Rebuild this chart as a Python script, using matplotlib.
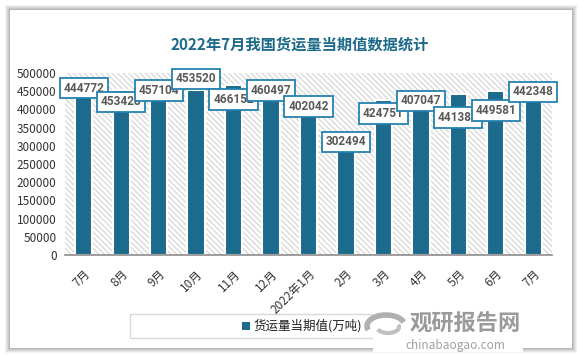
import matplotlib
matplotlib.use("Agg")
import matplotlib.pyplot as plt
from matplotlib.patches import Rectangle, Arc
import numpy as np

plt.rcParams['font.family'] = ['Noto Sans CJK SC', 'DejaVu Sans']

categories = ["7月", "8月", "9月", "10月", "11月", "12月", "2022年1月",
              "2月", "3月", "4月", "5月", "6月", "7月"]
values = [444772, 453428, 457104, 453520, 466152, 460497, 402042,
          302494, 424751, 407047, 441383, 449581, 442348]
yticks = [0, 50000, 100000, 150000, 200000, 250000, 300000, 350000,
          400000, 450000, 500000]
title = "2022年7月我国货运量当期值数据统计"
series_name = "货运量当期值(万吨)"

# label vertical offsets in pixels (style only)
label_dy = [5, -12, -2, 11, -14, -3, 2, 3, -13, 6, -23, -19, 2]

W, H = 583, 355
fig = plt.figure(figsize=(W / 100, H / 100), dpi=100)
fig.patch.set_facecolor("white")

def fx(px):
    return px / W

def fy(py):
    return 1 - py / H

# card shadow
for i, a in enumerate([0.05, 0.05, 0.06, 0.07, 0.08]):
    d = 5 - i
    fig.patches.append(Rectangle((fx(10 - d), fy(348 + d)), fx(562 + 2 * d), (338 + 2 * d) / H,
                                 transform=fig.transFigure, facecolor="black", alpha=a,
                                 edgecolor="none", zorder=-3))
fig.patches.append(Rectangle((fx(10), fy(348)), fx(562), 338 / H, transform=fig.transFigure,
                             facecolor="white", edgecolor="none", zorder=-2))

ax = fig.add_axes([fx(65), fy(255), fx(552 - 65), (255 - 73) / H])
ax.set_zorder(1)
ax.set_facecolor("none")
n = len(categories)
x = np.arange(n)
ax.set_xlim(-0.5, n - 0.5)
ax.set_ylim(0, 500000)

# hatched background
ax.add_patch(Rectangle((-0.5, 0), n, 500000, facecolor="white", edgecolor="#dadada",
                       hatch="\\\\\\\\\\\\", linewidth=0, zorder=0))

ax.bar(x, values, width=0.46, color="#1c6a8c", edgecolor="white", linewidth=1.5, zorder=2)

for xi, v, dy in zip(x, values, label_dy):
    ax.annotate(f"{v}", (xi, v), xytext=(0, dy), textcoords="offset pixels",
                ha="center", va="center", fontsize=8.5, fontweight="bold", color="#595959",
                family=["Roboto", "DejaVu Sans"],
                bbox=dict(boxstyle="square,pad=0.32", facecolor="white", edgecolor="#2581b0",
                          linewidth=1.3), zorder=5)

ax.set_yticks(yticks)
ax.set_yticklabels([str(t) for t in yticks], fontsize=8.5, color="#333333")
ax.set_xticks(x)
ax.set_xticklabels(categories, rotation=45, ha="right", rotation_mode="anchor",
                   fontsize=8.5, color="#333333")
ax.tick_params(axis="both", length=0)
ax.tick_params(axis="y", pad=6)
ax.tick_params(axis="x", pad=9)
for s in ["left", "right", "top"]:
    ax.spines[s].set_visible(False)
ax.spines["bottom"].set_color("#8c8c8c")
ax.spines["bottom"].set_linewidth(1.2)
ax.spines["bottom"].set_zorder(3)

fig.text(fx(300), fy(45), title, ha="center", va="center", fontsize=11,
         fontweight="bold", color="#1d6a8a")

# legend box
fig.patches.append(Rectangle((fx(130), fy(338)), fx(350), 24 / H, transform=fig.transFigure,
                             facecolor="white", edgecolor="#d9d9d9", linewidth=1, zorder=-1))
fig.patches.append(Rectangle((fx(242), fy(330)), fx(8), 8 / H, transform=fig.transFigure,
                             facecolor="#1c6a8c", edgecolor="none", zorder=-0.5))
fig.text(fx(254), fy(326), series_name, ha="left", va="center", fontsize=9, color="#222222")

# watermark
fig.patches.append(Rectangle((fx(373), fy(352)), fx(150), 44 / H, transform=fig.transFigure,
                             facecolor="white", edgecolor="none", zorder=-0.4))
fig.text(fx(410), fy(324), "观研报告网", ha="left", va="center", fontsize=16,
         fontweight="bold", color="#9a9a9a", zorder=4)
fig.text(fx(405), fy(345), "chinabaogao.com", ha="left", va="center", fontsize=8.5,
         color="#a0a0a0", zorder=4)
fig.patches.append(Arc((fx(386), fy(326)), fx(38), 22 / H, theta1=20, theta2=200,
                       transform=fig.transFigure, color="#b0b0b0", linewidth=4, zorder=-0.3))
fig.patches.append(Arc((fx(388), fy(327)), fx(22), 12 / H, theta1=200, theta2=380,
                       transform=fig.transFigure, color="#c0c0c0", linewidth=3, zorder=-0.3))

fig.savefig("out.png", dpi=100)
